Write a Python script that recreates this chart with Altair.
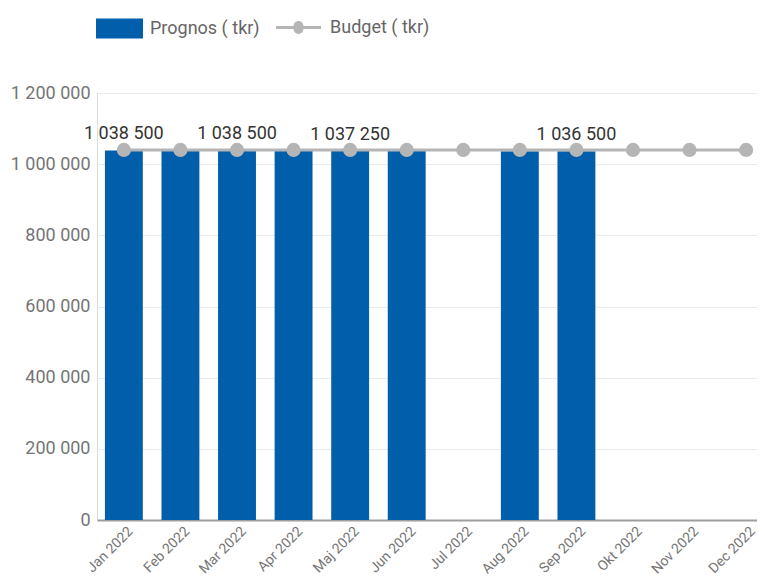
import altair as alt
import pandas as pd

months = ["Jan 2022", "Feb 2022", "Mar 2022", "Apr 2022", "Maj 2022", "Jun 2022",
          "Jul 2022", "Aug 2022", "Sep 2022", "Okt 2022", "Nov 2022", "Dec 2022"]
prognos = [1038500, 1038500, 1038500, 1038500, 1037250, 1037250,
           None, 1036500, 1036500, None, None, None]
budget = [1040000] * 12
labelled = ["Jan 2022", "Mar 2022", "Maj 2022", "Sep 2022"]

BLUE = "#005eaa"
GREY = "#b5b5b5"
FONT = "Roboto"

df = pd.DataFrame({"month": months, "prognos": prognos, "budget": budget})
df["s1"] = "Prognos ( tkr)"
df["s2"] = "Budget ( tkr)"
df["show"] = df["month"].isin(labelled)

xscale = alt.Scale(domain=months, range=[0, 676], paddingInner=0.33, paddingOuter=0.14)
yscale = alt.Scale(domain=[0, 1200000], nice=False)

x = alt.X("month:N", scale=xscale, sort=months, title=None,
          axis=alt.Axis(labelAngle=315, labelAlign="right", labelBaseline="top",
                        labelFont=FONT, labelFontSize=14, labelColor="#757575",
                        labelPadding=4, labelOffset=2, ticks=False, domainColor="#9e9e9e",
                        domainWidth=2, grid=False, labelOverlap=False))
y = alt.Y("prognos:Q", scale=yscale, title=None,
          axis=alt.Axis(values=[0, 200000, 400000, 600000, 800000, 1000000, 1200000],
                        labelExpr="replace(format(datum.value, ','), /,/g, ' ')",
                        labelFont=FONT, labelFontSize=18, labelColor="#757575",
                        labelPadding=7, ticks=False, domain=False,
                        gridColor="#ebebeb", gridWidth=1))

bars = alt.Chart(df).transform_filter("isValid(datum.prognos)").mark_bar(color=BLUE).encode(
    x=x, y=y,
    color=alt.Color("s1:N", scale=alt.Scale(domain=["Prognos ( tkr)"], range=[BLUE]),
                    legend=alt.Legend(title=None, orient="none", legendX=-1, legendY=-88,
                                      symbolType="M-1,-0.43H1V0.43H-1Z", symbolSize=2209,
                                      symbolStrokeWidth=0, labelFont=FONT, labelFontSize=18,
                                      labelColor="#666666", labelOffset=7, padding=0)),
)

line = alt.Chart(df).mark_line(color=GREY, strokeWidth=3).encode(
    x=alt.X("month:N", scale=xscale, sort=months),
    y=alt.Y("budget:Q", scale=yscale),
)

pts = alt.Chart(df).mark_circle(size=200, opacity=1).encode(
    x=alt.X("month:N", scale=xscale, sort=months),
    y=alt.Y("budget:Q", scale=yscale),
    color=alt.Color("s2:N", scale=alt.Scale(domain=["Budget ( tkr)"], range=[GREY]),
                    legend=alt.Legend(title=None, orient="none", legendX=179, legendY=-88,
                                      symbolType="M-1,-0.067H-0.22A0.22,0.22 0 1 1 0.22,-0.067H1V0.067H0.22A0.22,0.22 0 1 1 -0.22,0.067H-1Z",
                                      symbolSize=2025, symbolStrokeWidth=0, symbolOpacity=1,
                                      labelFont=FONT, labelFontSize=18,
                                      labelColor="#666666", labelOffset=9, padding=0)),
)

labels = alt.Chart(df).transform_filter("datum.show && isValid(datum.prognos)").mark_text(
    baseline="bottom", dy=-7, font=FONT, fontSize=18, color="#333333"
).encode(
    x=alt.X("month:N", scale=xscale, sort=months),
    y=alt.Y("prognos:Q", scale=yscale),
    text=alt.Text("label:N"),
).transform_calculate(label="replace(format(datum.prognos, ','), /,/g, ' ')")

chart = alt.layer(bars, line, pts, labels).resolve_scale(color="independent").properties(
    width=660, height=427,
    autosize=alt.AutoSizeParams(type="none"),
    padding={"left": 89, "top": 85, "right": 0, "bottom": 56},
).configure_view(stroke=None).configure(background="white")

chart.save("out.html", embed_options={"renderer": "svg", "actions": False})
